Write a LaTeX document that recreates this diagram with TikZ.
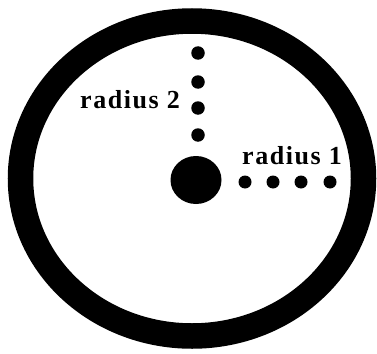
\documentclass[tikz,border=0pt]{standalone}
\usepackage{fontspec}
\setmainfont{Liberation Serif}
\usetikzlibrary{shapes.geometric}
\tikzset{
  dotnode/.style={circle,fill=black,inner sep=0pt,minimum size=13.5pt},
  hdot/.style={circle,fill=black,inner sep=0pt,minimum size=13pt},
  lbl/.style={anchor=base west,inner sep=0pt,font=\fontsize{26}{28}\selectfont\bfseries\addfontfeature{LetterSpace=6}},
}
\begin{document}
\begin{tikzpicture}[x=1pt,y=-1pt]
\useasboundingbox (0,0) rectangle (377,353);
% ring
\draw[line width=25.5pt] (192,178.5) ellipse [x radius=171.5, y radius=157.5];
% center
\node[ellipse,fill=black,inner sep=0pt,minimum width=51pt,minimum height=48pt] (c) at (196,180) {};
% radius 2 dots
\node[dotnode] (v1) at (198,53) {};
\node[dotnode] (v2) at (198,82) {};
\node[dotnode] (v3) at (198,108) {};
\node[dotnode] (v4) at (198,135) {};
% radius 1 dots
\node[hdot] (h1) at (245,182) {};
\node[hdot] (h2) at (273,182) {};
\node[hdot] (h3) at (301,182) {};
\node[hdot] (h4) at (330,182) {};
% labels
\node[lbl] (r2) at (80,108) {radius 2};
\node[lbl] (r1) at (242,164.5) {radius 1};
\end{tikzpicture}
\end{document}
